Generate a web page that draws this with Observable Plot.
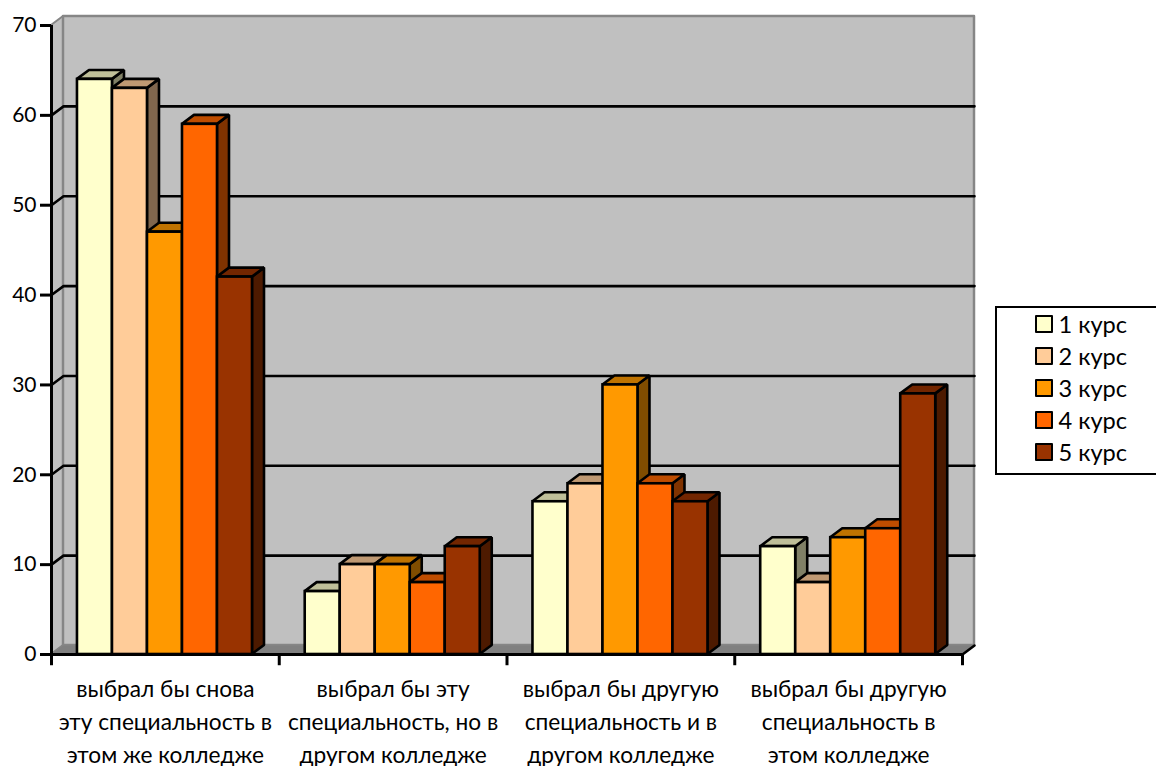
<!DOCTYPE html>
<html><head><meta charset="utf-8">
<script src="https://cdn.jsdelivr.net/npm/d3@7"></script>
<script src="https://cdn.jsdelivr.net/npm/@observablehq/plot@0.6"></script>
<style>
html,body{margin:0;padding:0;background:#fff;overflow:hidden}
#wrap{position:relative;width:1156px;height:766px;font-family:Lato,sans-serif}
#legend{position:absolute;left:995px;top:306px;width:175px;height:169px;border:2.5px solid #000;box-sizing:border-box;background:#fff}
#legend .row{position:absolute;left:37.5px;height:32px;display:flex;align-items:center;font-size:23.6px;color:#000;white-space:nowrap}
#legend .sw{width:14px;height:14px;border:2.5px solid #000;margin-right:6px;border-radius:1px;box-sizing:content-box}
</style></head><body>
<div id="wrap"><div id="legend"></div></div>
<script>
const categories = ["выбрал бы снова\nэту специальность в\nэтом же колледже","выбрал бы эту\nспециальность, но в\nдругом колледже","выбрал бы другую\nспециальность и в\nдругом колледже","выбрал бы другую\nспециальность в\nэтом колледже"];
const seriesNames = ["1 курс","2 курс","3 курс","4 курс","5 курс"];
const seriesColors = ["#FFFFCC","#FFCC99","#FF9900","#FF6600","#993300"];
const kurs1 = [64,7,17,12];
const kurs2 = [63,10,19,8];
const kurs3 = [47,10,30,13];
const kurs4 = [59,8,19,14];
const kurs5 = [42,12,17,29];
const seriesValues = [kurs1,kurs2,kurs3,kurs4,kurs5];
const yTicks = [0,10,20,30,40,50,60,70];
const gridValues = [10,20,30,40,50,60];

// pseudo-3D depth in data units, bar layout in category units
const depthX = 0.0527, depthY = 1, barStart = 0.114, barW = 0.1537;
const nCat = categories.length, yMax = 70;
const shade = (c,k)=>{const q=d3.rgb(c);return d3.rgb(q.r*k,q.g*k,q.b*k).formatHex()};

const bars = [];
categories.forEach((c,i)=>seriesValues.forEach((vals,s)=>{
  const x1=i+barStart+s*barW;
  bars.push({id:i+"-"+s,x1,x2:x1+barW,v:vals[i],color:seriesColors[s]});
}));
const sides = bars.flatMap(b=>[
  {id:b.id,x:b.x2,y1:0,y2:b.v,fill:shade(b.color,.5)},
  {id:b.id,x:b.x2+depthX,y1:depthY,y2:b.v+depthY,fill:shade(b.color,.5)}]);
const tops = bars.flatMap(b=>[
  {id:b.id,y:b.v,x1:b.x1,x2:b.x2,fill:shade(b.color,.75)},
  {id:b.id,y:b.v+depthY,x1:b.x1+depthX,x2:b.x2+depthX,fill:shade(b.color,.75)}]);
const grid = gridValues.flatMap(v=>[
  {v,x:0,y:v},{v,x:depthX,y:v+depthY},{v,x:nCat+depthX,y:v+depthY}]);

const wallGray="#c0c0c0", edgeGray="#868686", sw=2.6;
const plot = Plot.plot({
  width:1156,height:766,marginLeft:51,marginRight:194,marginTop:25,marginBottom:112,
  style:{fontFamily:"Lato,sans-serif",background:"transparent",color:"#000",overflow:"visible"},
  x:{domain:[0,nCat],axis:null},
  y:{domain:[0,yMax],axis:null},
  color:{type:"identity"},
  marks:[
    // left wall, back wall, floor
    Plot.areaY([{x:0,y1:0,y2:yMax},{x:depthX,y1:depthY,y2:yMax+depthY}],{x:"x",y1:"y1",y2:"y2",fill:wallGray,stroke:edgeGray,strokeWidth:2}),
    Plot.areaY([{x:depthX,y1:depthY,y2:yMax+depthY},{x:nCat+depthX,y1:depthY,y2:yMax+depthY}],{x:"x",y1:"y1",y2:"y2",fill:wallGray,stroke:edgeGray,strokeWidth:2.5}),
    Plot.line(grid,{x:"x",y:"y",z:"v",stroke:"#000",strokeWidth:2.6}),
    Plot.areaX([{y:0,x1:0,x2:nCat},{y:depthY,x1:depthX,x2:nCat+depthX}],{y:"y",x1:"x1",x2:"x2",fill:"#808080",stroke:edgeGray,strokeWidth:1}),
    // bars: sides, tops, fronts
    Plot.areaY(sides,{x:"x",y1:"y1",y2:"y2",z:"id",fill:"fill",stroke:"#000",strokeWidth:sw,strokeLinejoin:"miter"}),
    Plot.areaX(tops,{y:"y",x1:"x1",x2:"x2",z:"id",fill:"fill",stroke:"#000",strokeWidth:sw,strokeLinejoin:"miter"}),
    Plot.rectY(bars,{x1:"x1",x2:"x2",y1:0,y2:"v",fill:"color",stroke:"#000",strokeWidth:sw}),
    // axes
    Plot.ruleX([0],{y1:0,y2:yMax,stroke:"#000",strokeWidth:3}),
    Plot.ruleY([0],{x1:0,x2:nCat,stroke:"#000",strokeWidth:3}),
    Plot.line([{x:nCat,y:0},{x:nCat+depthX,y:depthY}],{x:"x",y:"y",stroke:"#000",strokeWidth:sw}),
    Plot.ruleX(d3.range(nCat+1),{y1:0,y2:-1.25,stroke:"#000",strokeWidth:3}),
    Plot.axisY(yTicks,{tickSize:11,tickPadding:4,fontSize:21,strokeWidth:3,label:null,stroke:"#000"}),
    Plot.axisX(categories.map((c,i)=>i+.5),{tickSize:0,tickPadding:19,fontSize:22.7,lineHeight:1.45,lineAnchor:"top",label:null,
      tickFormat:d=>categories[Math.floor(d)]})
  ]
});
document.getElementById("wrap").prepend(plot);
const lg=document.getElementById("legend");
seriesNames.forEach((n,i)=>{
  const r=document.createElement("div");r.className="row";r.style.top=(0+i*32)+"px";
  const s=document.createElement("span");s.className="sw";s.style.background=seriesColors[i];
  r.append(s,document.createTextNode(n));lg.append(r);
});
</script>
</body></html>
